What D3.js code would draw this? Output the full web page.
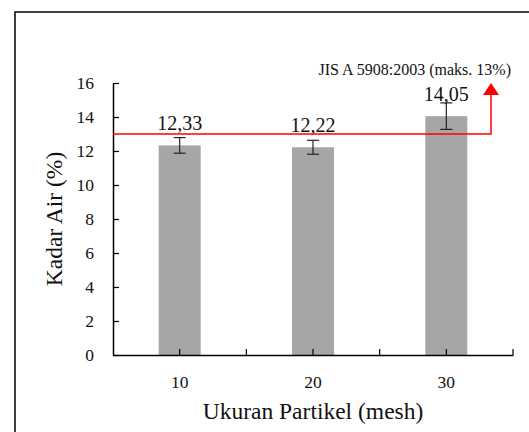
<!DOCTYPE html>
<html>
<head>
<meta charset="utf-8">
<script src="https://cdn.jsdelivr.net/npm/d3@7"></script>
<style>
	body { margin: 0; background: #fff; }
</style>
</head>
<body>
<svg id="chart" width="529" height="432"></svg>
<script>
'use strict';

// data
const categories = ['10', '20', '30'];
const values = [12.33, 12.22, 14.05];
const errors = [0.46, 0.41, 0.78];
const labels = ['12,33', '12,22', '14,05'];
const yTicks = [0, 2, 4, 6, 8, 10, 12, 14, 16];
const limitValue = 13;
const limitLabel = 'JIS A 5908:2003 (maks. 13%)';

const FONT = '"Liberation Serif"';

const $svg = d3.select('#chart');
const margin = {top: 83, right: 16, bottom: 77, left: 113};
const width = 529 - margin.left - margin.right;
const height = 432 - margin.top - margin.bottom;

// outer frame, runs off the right and bottom edges
$svg.append('rect')
	.attr('x', 15).attr('y', 12)
	.attr('width', 600).attr('height', 600)
	.attr('fill', 'none')
	.attr('stroke', '#000')
	.attr('stroke-width', 1.5)
;

const $g = $svg.append('g')
	.attr('transform', 'translate(' + margin.left + ',' + margin.top + ')');

const x = d3.scaleBand().domain(categories).range([0, width]);
const y = d3.scaleLinear().domain([0, 16]).range([height, 0]);
const barW = x.bandwidth() * 0.315;

// bars
$g.selectAll('rect.bar')
	.data(values)
	.join('rect')
	.attr('class', 'bar')
	.attr('x', (d, i) => x(categories[i]) + x.bandwidth() / 2 - barW / 2)
	.attr('y', d => y(d))
	.attr('width', barW)
	.attr('height', d => y(0) - y(d))
	.attr('fill', '#a6a6a6')
;

// error bars
const cap = 6;
const $err = $g.selectAll('g.err')
	.data(values)
	.join('g')
	.attr('class', 'err')
	.attr('stroke', '#222')
	.attr('stroke-width', 1.2)
	.attr('transform', (d, i) => 'translate(' + (x(categories[i]) + x.bandwidth() / 2) + ',0)');
$err.append('line')
	.attr('y1', (d, i) => y(d - errors[i]))
	.attr('y2', (d, i) => y(d + errors[i]));
$err.append('line')
	.attr('x1', -cap).attr('x2', cap)
	.attr('y1', (d, i) => y(d + errors[i]))
	.attr('y2', (d, i) => y(d + errors[i]));
$err.append('line')
	.attr('x1', -cap).attr('x2', cap)
	.attr('y1', (d, i) => y(d - errors[i]))
	.attr('y2', (d, i) => y(d - errors[i]));

// axes
const $yAxis = $g.append('g')
	.call(d3.axisLeft(y).tickValues(yTicks).tickSizeInner(-6).tickSizeOuter(0).tickPadding(19));
const $xAxis = $g.append('g')
	.attr('transform', 'translate(0,' + height + ')')
	.call(d3.axisBottom(x).tickSizeInner(-6).tickSizeOuter(0).tickPadding(21));

[$yAxis, $xAxis].forEach($a => {
	$a.attr('font-family', null);
	$a.select('.domain').attr('stroke', '#000').attr('stroke-width', 1.5);
	$a.selectAll('.tick line').attr('stroke', '#000').attr('stroke-width', 1.2);
	$a.selectAll('.tick text')
		.style('font-family', FONT)
		.style('font-size', '17.5px')
		.attr('fill', '#111');
});

// boundary ticks between categories
$g.append('g')
	.selectAll('line')
	.data(categories)
	.join('line')
	.attr('x1', d => x(d) + x.bandwidth())
	.attr('x2', d => x(d) + x.bandwidth())
	.attr('y1', height)
	.attr('y2', height - 6)
	.attr('stroke', '#000')
	.attr('stroke-width', 1.2)
;

// value labels
$g.selectAll('text.val')
	.data(values)
	.join('text')
	.attr('class', 'val')
	.attr('x', (d, i) => x(categories[i]) + x.bandwidth() / 2)
	.attr('y', d => y(d) - 15)
	.attr('text-anchor', 'middle')
	.style('font-family', FONT)
	.style('font-size', '20px')
	.attr('fill', '#111')
	.text((d, i) => labels[i])
;

// limit line with arrow
const arrowX = 378;
$g.append('path')
	.attr('d', 'M0,' + y(limitValue) + 'H' + arrowX + 'V' + (y(16) + 12))
	.attr('fill', 'none')
	.attr('stroke', '#ff0000')
	.attr('stroke-width', 1.5)
;
$g.append('path')
	.attr('d', 'M' + (arrowX - 8) + ',' + (y(16) + 12) + 'L' + arrowX + ',' + y(16) + 'L' + (arrowX + 8) + ',' + (y(16) + 12) + 'Z')
	.attr('fill', '#ff0000')
;
$g.append('text')
	.attr('x', 398)
	.attr('y', -8)
	.attr('text-anchor', 'end')
	.style('font-family', FONT)
	.style('font-size', '16px')
	.attr('fill', '#111')
	.text(limitLabel)
;

// axis titles
$svg.append('text')
	.attr('x', margin.left + width / 2)
	.attr('y', 419)
	.attr('text-anchor', 'middle')
	.style('font-family', FONT)
	.style('font-size', '23.5px')
	.attr('fill', '#111')
	.text('Ukuran Partikel (mesh)')
;
$svg.append('text')
	.attr('transform', 'translate(62,' + (margin.top + height / 2) + ') rotate(-90)')
	.attr('text-anchor', 'middle')
	.style('font-family', FONT)
	.style('font-size', '23.5px')
	.attr('fill', '#111')
	.text('Kadar Air (%)')
;
</script>
</body>
</html>
